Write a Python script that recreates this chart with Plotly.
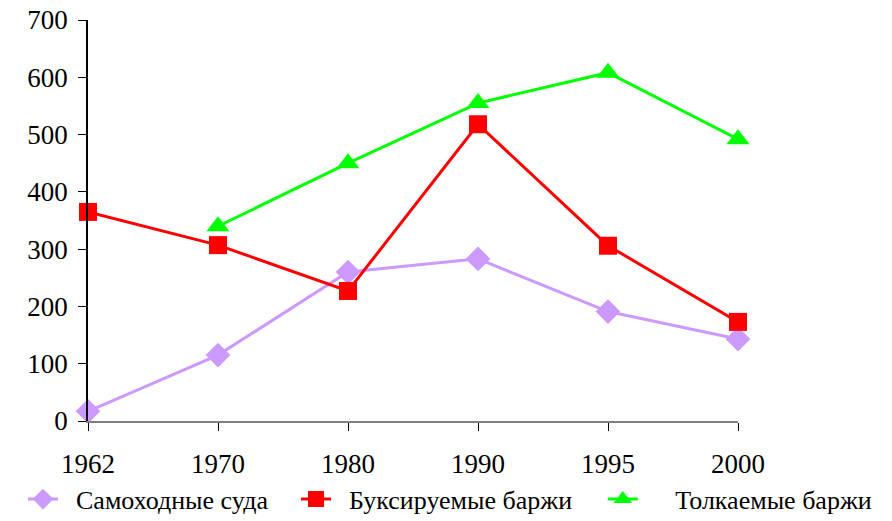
import plotly.graph_objects as go

years = ["1962", "1970", "1980", "1990", "1995", "2000"]

self_propelled = [17, 115, 260, 283, 191, 143]
towed_barges = [365, 307, 227, 518, 306, 173]
pushed_barges = [None, 340, 450, 555, 608, 492]

FONT = "Liberation Serif"

fig = go.Figure()

fig.add_trace(go.Scatter(
    x=years, y=self_propelled, name="  Самоходные суда", legend="legend",
    mode="lines+markers", cliponaxis=False,
    line=dict(color="#CC99FF", width=3),
    marker=dict(symbol="diamond", size=19, color="#CC99FF"),
))
fig.add_trace(go.Scatter(
    x=years, y=towed_barges, name="  Буксируемые баржи", legend="legend2",
    mode="lines+markers", cliponaxis=False,
    line=dict(color="#FF0000", width=3),
    marker=dict(symbol="square", size=18, color="#FF0000"),
))
fig.add_trace(go.Scatter(
    x=years, y=pushed_barges, name="     Толкаемые баржи", legend="legend3",
    mode="lines+markers", cliponaxis=False, connectgaps=False,
    line=dict(color="#00FF00", width=3),
    marker=dict(symbol="triangle-up", size=20, color="#00FF00"),
))

# one legend per series, so each entry sits where it does in the original
legend_style = dict(
    orientation="h", xanchor="left", y=-0.195, yanchor="middle",
    font=dict(family=FONT, size=26), itemwidth=30,
    bgcolor="rgba(0,0,0,0)",
)

fig.update_layout(
    width=892, height=521,
    margin=dict(l=88, r=154, t=20, b=100, autoexpand=False),
    paper_bgcolor="white", plot_bgcolor="white",
    font=dict(family=FONT, size=27, color="black"),
    xaxis=dict(
        type="category", range=[0, 5], automargin=False,
        showgrid=False, zeroline=False,
        showline=True, linecolor="#808080", linewidth=2,
        ticks="outside", ticklen=8, tickcolor="black", tickwidth=1,
        tickfont=dict(family=FONT, size=27),
        ticklabelstandoff=10,
    ),
    yaxis=dict(
        range=[0, 700], dtick=100, automargin=False,
        showgrid=False, zeroline=False,
        showline=True, linecolor="black", linewidth=1.5,
        ticks="outside", ticklen=8, tickcolor="black", tickwidth=1,
        tickfont=dict(family=FONT, size=27),
        ticklabelstandoff=5, ticklabeloverflow="allow",
    ),
    legend=dict(legend_style, x=-0.1),
    legend2=dict(legend_style, x=0.32),
    legend3=dict(legend_style, x=0.792),
    showlegend=True,
)

# drop the page's default body margin so the figure fills the window
fig.write_html(
    "out.html",
    config={"displayModeBar": False},
    post_script="document.body.style.margin='0';document.body.style.overflow='hidden';",
)
